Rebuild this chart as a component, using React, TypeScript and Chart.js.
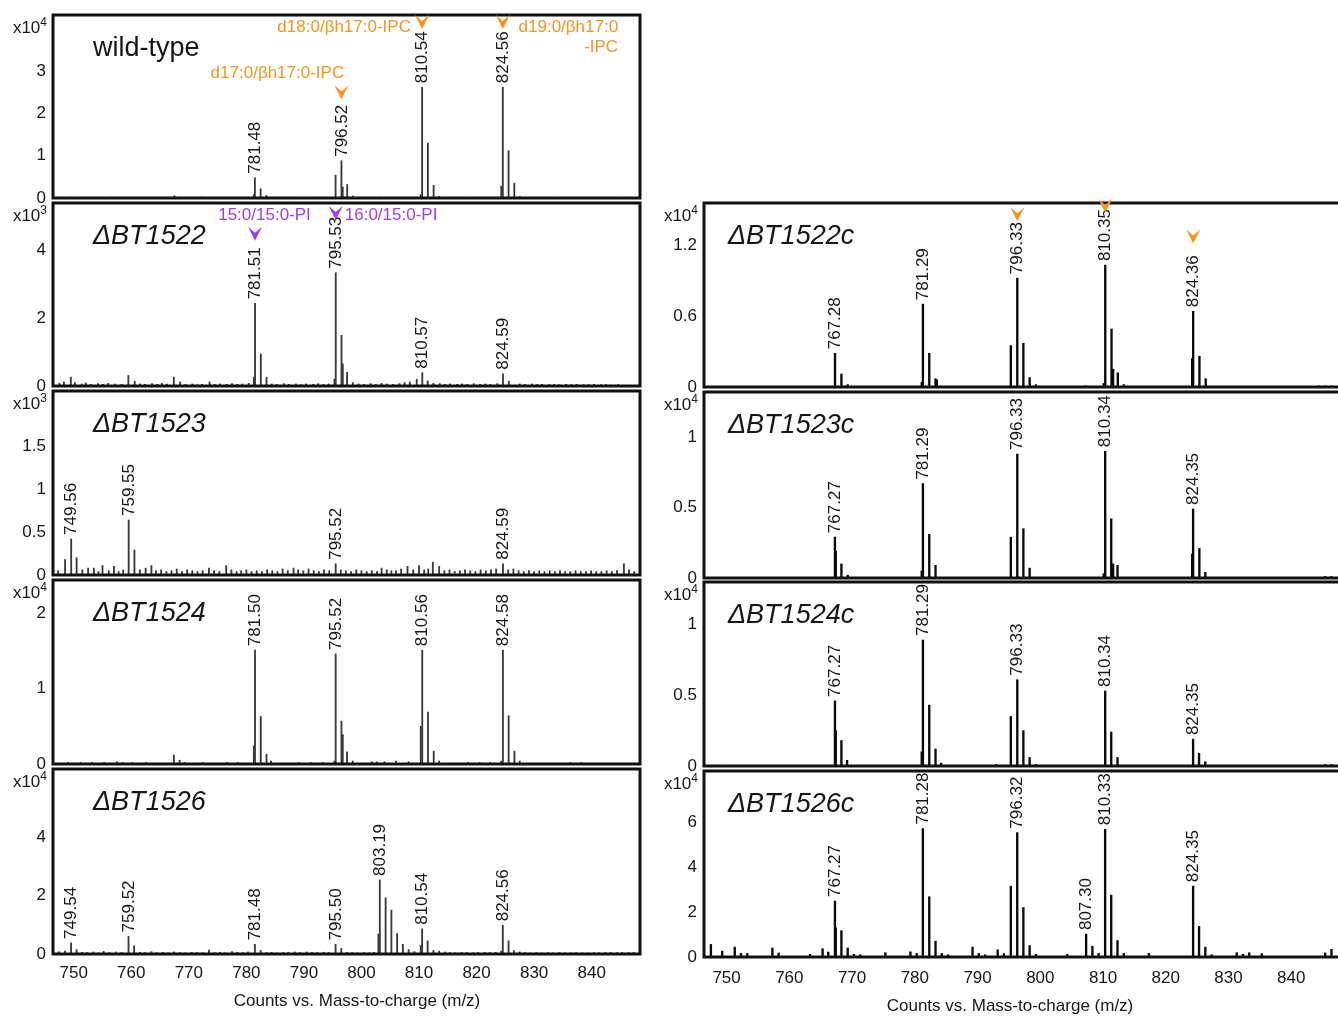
import React, { useEffect, useRef } from "react";
import { Chart, registerables } from "chart.js";
Chart.register(...registerables);

type Pair = [number, number];
type Note = [string, number, number, CanvasTextAlign];

// ---------- shared axis data ----------
const mzMin = 746.4;
const mzMax = 848.4;
const mzTicks = [750, 760, 770, 780, 790, 800, 810, 820, 830, 840];
const xAxisTitle = "Counts vs. Mass-to-charge (m/z)";

// ---------- wild-type (x10^4) ----------
const wtPeaks: Pair[] = [
  [749.6, 0.02], [756.4, 0.02], [767.5, 0.05], [768.5, 0.02], [772.3, 0.02],
  [781.28, 0.08], [781.48, 0.48], [782.48, 0.22], [783.48, 0.06], [790.1, 0.02],
  [795.5, 0.54], [796.52, 0.88], [796.75, 0.26], [797.52, 0.32], [798.5, 0.05],
  [803.2, 0.02], [810.3, 0.08], [810.54, 2.62], [811.54, 1.3], [812.54, 0.3],
  [813.5, 0.04], [818.2, 0.02], [824.3, 0.28], [824.56, 2.62], [825.56, 1.12],
  [826.56, 0.35], [827.5, 0.04], [833.6, 0.02], [845.2, 0.02],
];
const wtLabels = [781.48, 796.52, 810.54, 824.56];
const wtTicks = [0, 1, 2, 3];
const wtArrows: Pair[] = [[796.52, 2.67], [810.54, 4.33], [824.56, 4.33]];
const wtNotes: Note[] = [
  ["d17:0/βh17:0-IPC", 797.0, 2.95, "right"],
  ["d18:0/βh17:0-IPC", 808.6, 4.04, "right"],
  ["d19:0/βh17:0", 844.6, 4.04, "right"],
  ["-IPC", 844.6, 3.57, "right"],
];

// ---------- ΔBT1522 (x10^3) ----------
const bt1522Peaks: Pair[] = [
  [781.3, 0.26], [781.51, 2.43], [782.51, 0.94], [783.5, 0.26],
  [795.3, 0.2], [795.53, 3.33], [796.53, 1.49], [796.75, 0.65], [797.5, 0.4], [798.5, 0.1],
  [810.57, 0.39], [811.5, 0.15], [824.59, 0.36], [825.6, 0.14],
];
const bt1522Noise: Pair[] = [
  [747.5, 0.08], [748.3, 0.12], [749.5, 0.26], [750.2, 0.1], [751.4, 0.06], [752.1, 0.09],
  [753.0, 0.05], [754.2, 0.07], [755.1, 0.05], [756.0, 0.08], [757.2, 0.06], [758.3, 0.05],
  [759.5, 0.31], [760.6, 0.14], [761.5, 0.06], [762.4, 0.05], [763.6, 0.07], [764.5, 0.05],
  [765.3, 0.08], [766.2, 0.06], [767.4, 0.26], [768.5, 0.12], [769.4, 0.05], [770.6, 0.06],
  [771.5, 0.04], [772.3, 0.05], [773.6, 0.12], [774.5, 0.05], [775.4, 0.06], [776.6, 0.05],
  [777.5, 0.07], [778.4, 0.05], [779.3, 0.06], [780.4, 0.08], [784.4, 0.06], [785.3, 0.05],
  [786.5, 0.07], [787.4, 0.05], [788.6, 0.06], [789.5, 0.04], [790.4, 0.06], [791.6, 0.05],
  [792.5, 0.07], [793.4, 0.05], [794.3, 0.06], [799.5, 0.06], [800.4, 0.05], [801.6, 0.07],
  [802.5, 0.05], [803.5, 0.08], [804.4, 0.06], [805.5, 0.05], [806.6, 0.07], [807.5, 0.1],
  [808.4, 0.12], [809.6, 0.2], [812.5, 0.08], [813.6, 0.07], [814.5, 0.05], [815.4, 0.06],
  [816.6, 0.05], [817.5, 0.06], [818.4, 0.05], [819.5, 0.07], [820.6, 0.05], [821.5, 0.06],
  [822.4, 0.05], [823.6, 0.07], [827.5, 0.06], [828.4, 0.05], [829.6, 0.06], [830.5, 0.04],
  [831.4, 0.05], [832.6, 0.04], [833.5, 0.05], [834.4, 0.04], [835.6, 0.05], [836.5, 0.04],
  [837.4, 0.05], [838.6, 0.04], [839.5, 0.04], [840.4, 0.05], [841.6, 0.04], [842.5, 0.04],
  [843.4, 0.03], [844.6, 0.04],
];
const bt1522Labels = [781.51, 795.53, 810.57, 824.59];
const bt1522Ticks = [0, 2, 4];
const bt1522Arrows: Pair[] = [[781.51, 4.68], [795.53, 5.29]];
const bt1522Notes: Note[] = [
  ["15:0/15:0-PI", 791.2, 5.03, "right"],
  ["16:0/15:0-PI", 797.1, 5.03, "left"],
];

// ---------- ΔBT1523 (x10^3) ----------
const bt1523Peaks: Pair[] = [
  [748.5, 0.18], [749.56, 0.42], [750.5, 0.2], [759.55, 0.64], [760.55, 0.29],
  [795.52, 0.13], [812.4, 0.15], [824.59, 0.13], [845.6, 0.13], [846.5, 0.06],
];
const bt1523Noise: Pair[] = [
  [747.3, 0.05], [751.5, 0.06], [752.5, 0.08], [753.5, 0.08], [754.3, 0.04], [755.0, 0.11],
  [756.1, 0.05], [757.0, 0.1], [757.8, 0.04], [758.6, 0.06], [761.5, 0.06], [762.5, 0.08],
  [763.5, 0.11], [764.3, 0.05], [765.2, 0.06], [766.1, 0.04], [767.0, 0.05], [767.9, 0.07],
  [768.8, 0.04], [769.7, 0.06], [770.6, 0.05], [771.5, 0.04], [772.4, 0.05], [773.5, 0.08],
  [774.4, 0.05], [775.3, 0.04], [776.5, 0.11], [777.4, 0.06], [778.3, 0.04], [779.1, 0.05],
  [780.0, 0.06], [780.9, 0.04], [781.8, 0.05], [782.7, 0.04], [783.6, 0.06], [784.5, 0.05],
  [785.4, 0.04], [786.3, 0.07], [787.2, 0.05], [788.2, 0.08], [789.0, 0.06], [789.9, 0.05],
  [790.8, 0.07], [791.7, 0.05], [792.6, 0.04], [793.5, 0.06], [794.4, 0.05], [796.4, 0.06],
  [797.3, 0.05], [798.2, 0.04], [799.1, 0.06], [800.0, 0.05], [800.9, 0.04], [801.8, 0.05],
  [802.7, 0.04], [803.5, 0.08], [804.4, 0.06], [805.2, 0.05], [806.0, 0.05], [806.9, 0.07],
  [808.0, 0.1], [809.0, 0.06], [810.0, 0.11], [810.9, 0.06], [811.6, 0.07], [813.5, 0.1],
  [814.4, 0.05], [815.3, 0.06], [816.2, 0.04], [817.1, 0.05], [818.0, 0.06], [818.9, 0.05],
  [819.8, 0.04], [820.7, 0.06], [821.6, 0.05], [822.5, 0.06], [823.4, 0.07], [825.5, 0.06],
  [826.4, 0.07], [827.3, 0.05], [828.2, 0.04], [829.1, 0.05], [830.0, 0.04], [830.9, 0.05],
  [831.8, 0.04], [832.7, 0.05], [833.6, 0.04], [834.5, 0.05], [835.4, 0.04], [836.3, 0.04],
  [837.2, 0.05], [838.1, 0.04], [839.0, 0.04], [839.9, 0.05], [840.8, 0.04], [841.7, 0.04],
  [842.6, 0.05], [843.5, 0.04], [844.4, 0.05], [847.4, 0.04],
];
const bt1523Labels = [749.56, 759.55, 795.52, 824.59];
const bt1523Ticks = [0, 0.5, 1, 1.5];

// ---------- ΔBT1524 (x10^4) ----------
const bt1524Peaks: Pair[] = [
  [749.0, 0.02], [751.2, 0.02], [753.2, 0.02], [755.3, 0.02], [757.5, 0.03], [758.5, 0.02],
  [760.2, 0.02], [762.6, 0.02], [767.4, 0.12], [768.4, 0.05], [769.3, 0.02], [772.5, 0.02],
  [776.7, 0.02], [778.5, 0.02], [781.3, 0.24], [781.5, 1.51], [782.5, 0.63], [783.5, 0.13],
  [784.3, 0.04], [789.1, 0.02], [791.2, 0.02], [793.3, 0.02], [795.3, 0.04], [795.52, 1.46],
  [796.52, 0.57], [796.75, 0.39], [797.5, 0.16], [798.5, 0.04], [801.8, 0.03], [802.7, 0.03],
  [804.0, 0.03], [806.0, 0.04], [808.2, 0.03], [810.3, 0.5], [810.56, 1.51], [811.56, 0.69],
  [812.56, 0.17], [813.5, 0.04], [818.5, 0.02], [820.5, 0.02], [822.3, 0.02], [824.3, 0.04],
  [824.58, 1.51], [825.58, 0.64], [826.58, 0.17], [827.5, 0.04], [836.3, 0.02], [838.2, 0.02],
];
const bt1524Labels = [781.5, 795.52, 810.56, 824.58];
const bt1524Ticks = [0, 1, 2];

// ---------- ΔBT1526 (x10^4) ----------
const bt1526Peaks: Pair[] = [
  [748.5, 0.1], [749.54, 0.38], [750.5, 0.15], [759.52, 0.6], [760.5, 0.28], [773.5, 0.13],
  [781.48, 0.33], [782.5, 0.12], [795.5, 0.33], [796.5, 0.19], [802.95, 0.68], [803.19, 2.53],
  [804.2, 1.92], [805.2, 1.5], [806.2, 0.7], [807.2, 0.33], [808.2, 0.15], [810.3, 0.3],
  [810.54, 0.86], [811.5, 0.45], [812.5, 0.12], [813.5, 0.1], [824.3, 0.1], [824.56, 0.98],
  [825.56, 0.45], [826.5, 0.12], [827.5, 0.07],
];
const bt1526Noise: Pair[] = [
  [747.4, 0.08], [751.5, 0.06], [752.3, 0.05], [753.4, 0.07], [754.3, 0.04], [755.2, 0.09],
  [756.2, 0.05], [757.3, 0.07], [758.3, 0.05], [761.5, 0.06], [762.4, 0.05], [763.5, 0.08],
  [764.4, 0.05], [765.5, 0.06], [766.4, 0.04], [767.4, 0.07], [768.5, 0.05], [769.4, 0.04],
  [770.5, 0.06], [771.4, 0.05], [772.4, 0.04], [774.5, 0.05], [775.4, 0.06], [776.3, 0.04],
  [777.5, 0.08], [778.4, 0.06], [779.4, 0.05], [780.3, 0.07], [783.5, 0.05], [784.4, 0.06],
  [785.3, 0.04], [786.4, 0.05], [787.3, 0.06], [788.4, 0.07], [789.3, 0.05], [790.5, 0.07],
  [791.4, 0.06], [792.3, 0.05], [793.4, 0.06], [794.3, 0.05], [797.5, 0.06], [798.4, 0.05],
  [799.3, 0.04], [800.4, 0.05], [801.3, 0.04], [802.2, 0.06], [809.2, 0.08], [814.5, 0.07],
  [815.4, 0.05], [816.3, 0.04], [817.4, 0.06], [818.3, 0.05], [819.4, 0.04], [820.3, 0.05],
  [821.4, 0.06], [822.3, 0.05], [823.3, 0.06], [828.4, 0.05], [829.3, 0.04], [830.4, 0.05],
  [831.3, 0.04], [832.4, 0.05], [833.3, 0.04], [834.4, 0.05], [835.3, 0.04], [836.4, 0.04],
  [837.3, 0.05], [838.4, 0.04], [839.3, 0.04], [840.4, 0.05], [841.3, 0.04], [842.4, 0.05],
  [843.3, 0.06], [844.4, 0.05], [845.3, 0.06], [846.4, 0.05], [847.3, 0.06],
];
const bt1526Labels = [749.54, 759.52, 781.48, 795.5, 803.19, 810.54, 824.56];
const bt1526Ticks = [0, 2, 4];

// ---------- ΔBT1522c (x10^4) ----------
const bt1522cPeaks: Pair[] = [
  [767.28, 0.285], [768.3, 0.11], [769.3, 0.02], [781.1, 0.04], [781.29, 0.7], [782.3, 0.285],
  [783.3, 0.07], [783.5, 0.06], [795.3, 0.35], [796.33, 0.92], [797.3, 0.37], [798.3, 0.08],
  [799.3, 0.02], [807.2, 0.01], [810.1, 0.03], [810.35, 1.03], [811.35, 0.49], [811.6, 0.15],
  [812.35, 0.12], [813.3, 0.02], [824.2, 0.24], [824.36, 0.64], [825.36, 0.26], [826.36, 0.07],
  [844.4, 0.01], [845.4, 0.01], [846.4, 0.01],
];
const bt1522cLabels = [767.28, 781.29, 796.33, 810.35, 824.36];
const bt1522cTicks = [0, 0.6, 1.2];
const bt1522cArrows: Pair[] = [[796.33, 1.52], [810.35, 1.59], [824.36, 1.33]];

// ---------- ΔBT1523c (x10^4) ----------
const bt1523cPeaks: Pair[] = [
  [767.27, 0.29], [767.4, 0.19], [768.3, 0.1], [769.3, 0.02], [781.1, 0.05], [781.29, 0.67],
  [782.3, 0.31], [783.3, 0.09], [795.3, 0.29], [796.33, 0.88], [797.3, 0.35], [798.3, 0.07],
  [810.1, 0.03], [810.34, 0.9], [811.3, 0.42], [811.6, 0.1], [812.3, 0.09], [824.2, 0.17],
  [824.35, 0.49], [825.35, 0.21], [826.3, 0.04], [845.4, 0.01], [846.4, 0.01],
];
const bt1523cLabels = [767.27, 781.29, 796.33, 810.34, 824.35];
const bt1523cTicks = [0, 0.5, 1];

// ---------- ΔBT1524c (x10^4) ----------
const bt1524cPeaks: Pair[] = [
  [749.7, 0.005], [767.27, 0.46], [767.4, 0.25], [768.3, 0.18], [769.2, 0.04], [781.1, 0.1],
  [781.29, 0.89], [782.3, 0.43], [783.3, 0.12], [784.2, 0.02], [793.0, 0.01], [795.3, 0.35],
  [796.33, 0.61], [797.3, 0.25], [798.3, 0.06], [799.3, 0.01], [810.34, 0.53], [811.3, 0.24],
  [812.3, 0.06], [824.35, 0.19], [825.3, 0.09], [826.3, 0.03], [845.4, 0.01], [846.4, 0.01],
];
const bt1524cLabels = [767.27, 781.29, 796.33, 810.34, 824.35];
const bt1524cTicks = [0, 0.5, 1];

// ---------- ΔBT1526c (x10^4) ----------
const bt1526cPeaks: Pair[] = [
  [747.5, 0.56], [749.3, 0.26], [751.3, 0.44], [752.3, 0.16], [753.3, 0.16], [757.3, 0.4],
  [758.3, 0.18], [763.3, 0.12], [765.3, 0.37], [766.2, 0.22], [767.27, 2.49], [767.4, 1.3],
  [768.3, 1.17], [769.3, 0.4], [770.3, 0.12], [771.3, 0.1], [775.3, 0.19], [779.3, 0.23],
  [780.3, 0.16], [781.28, 5.71], [782.3, 2.68], [783.3, 0.7], [784.3, 0.16], [785.3, 0.1],
  [789.2, 0.44], [790.2, 0.16], [791.2, 0.1], [793.2, 0.32], [794.2, 0.15], [795.3, 3.15],
  [796.32, 5.53], [797.3, 2.2], [798.3, 0.51], [799.3, 0.12], [804.3, 0.12], [807.3, 1.02],
  [808.3, 0.48], [809.3, 0.16], [810.33, 5.68], [811.3, 2.75], [812.3, 0.73], [813.3, 0.16],
  [817.3, 0.16], [824.35, 3.15], [825.3, 1.36], [826.3, 0.44], [827.3, 0.1], [831.3, 0.19],
  [832.3, 0.12], [833.3, 0.19], [835.3, 0.15], [845.4, 0.18], [846.4, 0.34],
];
const bt1526cLabels = [767.27, 781.28, 796.32, 807.3, 810.33, 824.35];
const bt1526cTicks = [0, 2, 4, 6];

// ---------- styling / layout (not data) ----------
const FONT = '"Liberation Sans", Arial, Helvetica, sans-serif';
const ORANGE = "#f7941d";
const PURPLE = "#9b3df2";
const TEXT = "#161616";

const COLS = [
  { canvasLeft: 0, axisW: 53, plotW: 587, padRight: 10, barColor: "#3a3a3a", barW: 1.2, titleDx: 40, axisTitleX: 357, tickPad: 9, titleDy: 47 },
  { canvasLeft: 650, axisW: 54, plotW: 640, padRight: 10, barColor: "#0a0a0a", barW: 1.7, titleDx: 24, axisTitleX: 1010, tickPad: 11, titleDy: 49 },
];
const TOP_PAD = 6;
const BOTTOM_PAD = 12;
const XAXIS_H = 62;

interface PanelDef {
  col: number; top: number; zero: number; yMax: number; yTicks: number[]; exp: string;
  title: string; italic: boolean; peaks: Pair[]; labels: number[]; arrows: Pair[];
  notes: Note[]; accent: string; bottom: boolean;
}

const PANELS: PanelDef[] = [
  { col: 0, top: 15, zero: 198, yMax: 4.33, yTicks: wtTicks, exp: "4", title: "wild-type", italic: false, peaks: wtPeaks, labels: wtLabels, arrows: wtArrows, notes: wtNotes, accent: ORANGE, bottom: false },
  { col: 0, top: 203, zero: 386, yMax: 5.38, yTicks: bt1522Ticks, exp: "3", title: "ΔBT1522", italic: true, peaks: [...bt1522Peaks, ...bt1522Noise], labels: bt1522Labels, arrows: bt1522Arrows, notes: bt1522Notes, accent: PURPLE, bottom: false },
  { col: 0, top: 391, zero: 575, yMax: 2.14, yTicks: bt1523Ticks, exp: "3", title: "ΔBT1523", italic: true, peaks: [...bt1523Peaks, ...bt1523Noise], labels: bt1523Labels, arrows: [], notes: [], accent: ORANGE, bottom: false },
  { col: 0, top: 580, zero: 764, yMax: 2.44, yTicks: bt1524Ticks, exp: "4", title: "ΔBT1524", italic: true, peaks: bt1524Peaks, labels: bt1524Labels, arrows: [], notes: [], accent: ORANGE, bottom: false },
  { col: 0, top: 769, zero: 954, yMax: 6.32, yTicks: bt1526Ticks, exp: "4", title: "ΔBT1526", italic: true, peaks: [...bt1526Peaks, ...bt1526Noise], labels: bt1526Labels, arrows: [], notes: [], accent: ORANGE, bottom: true },
  { col: 1, top: 203, zero: 387, yMax: 1.555, yTicks: bt1522cTicks, exp: "4", title: "ΔBT1522c", italic: true, peaks: bt1522cPeaks, labels: bt1522cLabels, arrows: bt1522cArrows, notes: [], accent: ORANGE, bottom: false },
  { col: 1, top: 392, zero: 578, yMax: 1.32, yTicks: bt1523cTicks, exp: "4", title: "ΔBT1523c", italic: true, peaks: bt1523cPeaks, labels: bt1523cLabels, arrows: [], notes: [], accent: ORANGE, bottom: false },
  { col: 1, top: 582, zero: 766, yMax: 1.3, yTicks: bt1524cTicks, exp: "4", title: "ΔBT1524c", italic: true, peaks: bt1524cPeaks, labels: bt1524cLabels, arrows: [], notes: [], accent: ORANGE, bottom: false },
  { col: 1, top: 771, zero: 957, yMax: 8.27, yTicks: bt1526cTicks, exp: "4", title: "ΔBT1526c", italic: true, peaks: bt1526cPeaks, labels: bt1526cLabels, arrows: [], notes: [], accent: ORANGE, bottom: true },
];

function panelSize(def: PanelDef) {
  const col = COLS[def.col];
  const w = col.axisW + col.plotW + col.padRight;
  const h = TOP_PAD + (def.zero - def.top) + (def.bottom ? XAXIS_H : BOTTOM_PAD);
  return { w, h };
}

function Panel({ def }: { def: PanelDef }) {
  const ref = useRef<HTMLCanvasElement>(null);
  useEffect(() => {
    const col = COLS[def.col];
    const decor = {
      id: "decor",
      afterDatasetsDraw(chart: any) {
        const { ctx, chartArea: ca, scales } = chart;
        const x = scales.x, y = scales.y;
        ctx.save();
        // frame
        ctx.strokeStyle = "#111";
        ctx.lineWidth = 3;
        ctx.strokeRect(ca.left, ca.top, ca.right - ca.left, ca.bottom - ca.top);
        // title
        ctx.fillStyle = TEXT;
        ctx.font = `${def.italic ? "italic " : ""}27px ${FONT}`;
        ctx.textAlign = "left";
        ctx.textBaseline = "alphabetic";
        ctx.fillText(def.title, ca.left + col.titleDx, ca.top + 41);
        // unit label  x10^n
        const ux = ca.left - 6;
        ctx.font = `12px ${FONT}`;
        ctx.textAlign = "right";
        const sw = ctx.measureText(def.exp).width;
        ctx.fillText(def.exp, ux, ca.top + 11);
        ctx.font = `17px ${FONT}`;
        ctx.fillText("x10", ux - sw, ca.top + 18);
        // peak labels (rotated)
        ctx.font = `17px ${FONT}`;
        ctx.textAlign = "left";
        ctx.textBaseline = "middle";
        ctx.fillStyle = TEXT;
        for (const mz of def.labels) {
          const pk = def.peaks.find((p) => p[0] === mz);
          if (!pk) continue;
          const px = x.getPixelForValue(mz);
          const py = y.getPixelForValue(pk[1]);
          ctx.save();
          ctx.translate(px + 0.5, py - 4);
          ctx.rotate(-Math.PI / 2);
          ctx.fillText(mz.toFixed(2), 0, 0);
          ctx.restore();
        }
        // arrows
        ctx.fillStyle = def.accent;
        for (const [mz, v] of def.arrows) {
          const px = x.getPixelForValue(mz);
          const py = y.getPixelForValue(v);
          ctx.beginPath();
          ctx.moveTo(px - 7, py);
          ctx.lineTo(px, py + 6);
          ctx.lineTo(px + 7, py);
          ctx.lineTo(px, py + 14);
          ctx.closePath();
          ctx.fill();
        }
        // annotation texts
        ctx.font = `17px ${FONT}`;
        ctx.textBaseline = "middle";
        for (const [t, mz, v, al] of def.notes) {
          ctx.textAlign = al;
          ctx.fillText(t, x.getPixelForValue(mz), y.getPixelForValue(v));
        }
        // x axis title
        if (def.bottom) {
          ctx.fillStyle = TEXT;
          ctx.font = `17px ${FONT}`;
          ctx.textAlign = "center";
          ctx.textBaseline = "middle";
          ctx.fillText(xAxisTitle, col.axisTitleX - col.canvasLeft, ca.bottom + col.titleDy);
        }
        ctx.restore();
      },
    };

    const chart = new Chart(ref.current as HTMLCanvasElement, {
      type: "bar",
      data: {
        datasets: [
          {
            data: def.peaks.map(([mz, v]) => ({ x: mz, y: v })),
            backgroundColor: col.barColor,
            borderWidth: 0,
            barThickness: col.barW,
          } as any,
        ],
      },
      options: {
        animation: false,
        responsive: false,
        maintainAspectRatio: false,
        events: [],
        layout: { padding: { top: TOP_PAD, right: col.padRight, bottom: def.bottom ? 0 : BOTTOM_PAD, left: 0 } },
        plugins: { legend: { display: false }, tooltip: { enabled: false } },
        scales: {
          x: {
            type: "linear",
            min: mzMin,
            max: mzMax,
            offset: false,
            display: def.bottom,
            grid: { display: false, drawTicks: false },
            border: { display: false },
            ticks: { font: { size: 17, family: FONT }, color: TEXT, padding: col.tickPad, maxRotation: 0, autoSkip: false },
            afterBuildTicks: (s: any) => { s.ticks = mzTicks.map((v) => ({ value: v })); },
            afterFit: (s: any) => { s.height = def.bottom ? XAXIS_H : 0; s.paddingLeft = 0; s.paddingRight = 0; },
          },
          y: {
            type: "linear",
            min: 0,
            max: def.yMax,
            grid: { display: false, drawTicks: false },
            border: { display: false },
            ticks: { font: { size: 17, family: FONT }, color: TEXT, padding: 7, callback: (v: any) => String(v) },
            afterBuildTicks: (s: any) => { s.ticks = def.yTicks.map((v) => ({ value: v })); },
            afterFit: (s: any) => { s.width = col.axisW; s.paddingTop = 0; s.paddingBottom = 0; },
          },
        },
      } as any,
      plugins: [decor],
    });
    return () => chart.destroy();
  }, [def]);

  const col = COLS[def.col];
  const { w, h } = panelSize(def);
  return (
    <canvas
      ref={ref}
      width={w}
      height={h}
      style={{ position: "absolute", left: col.canvasLeft, top: def.top - TOP_PAD, width: w, height: h }}
    />
  );
}

export default function App() {
  return (
    <div
      style={{
        position: "absolute",
        left: 0,
        top: 0,
        width: 1338,
        height: 1017,
        overflow: "hidden",
        background: "#fff",
      }}
    >
      {PANELS.map((p, i) => (
        <Panel key={i} def={p} />
      ))}
    </div>
  );
}
